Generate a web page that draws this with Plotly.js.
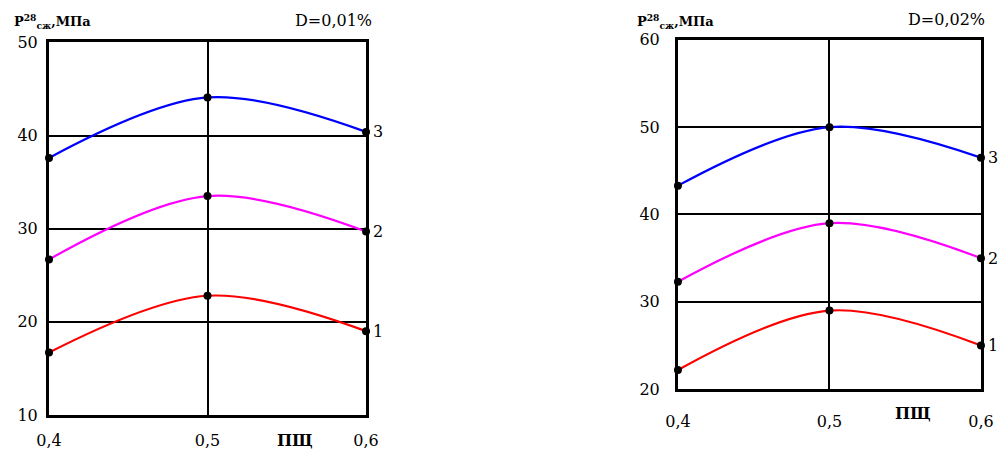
<!DOCTYPE html>
<html><head><meta charset="utf-8">
<script src="https://cdn.plot.ly/plotly-3.0.1.min.js"></script>
<style>html,body{margin:0;padding:0;background:#fff}#c{width:1002px;height:452px}</style>
</head><body><div id="c"></div>
<script>
const xVals = [0.4, 0.5, 0.6];
const xTickText = ["0,4", "0,5", "0,6"];
const seriesLabels = ["1", "2", "3"];
const seriesColors = ["#ff0000", "#ff00ff", "#0000ff"];
// Panel A: D=0,01%
const a1 = [16.7, 22.8, 19.0];
const a2 = [26.7, 33.5, 29.7];
const a3 = [37.6, 44.1, 40.4];
// Panel B: D=0,02%
const b1 = [22.2, 29.0, 25.0];
const b2 = [32.3, 39.0, 35.0];
const b3 = [43.3, 50.0, 46.5];
const titleA = "D=0,01%";
const titleB = "D=0,02%";
const yTicksA = [10, 20, 30, 40, 50];
const yTicksB = [20, 30, 40, 50, 60];
const xName = "ПЩ";
const yName = "P<sup>28</sup><sub>сж</sub>,МПа";

const F = "DejaVu Serif, Liberation Serif, serif";
const traces = [];
function addPanel(series, xa, ya) {
  series.forEach((s, i) => {
    traces.push({x: xVals, y: s, xaxis: xa, yaxis: ya, mode: "lines", type: "scatter",
      line: {shape: "spline", color: seriesColors[i], width: 2.2}, hoverinfo: "skip", showlegend: false, cliponaxis: false});
    traces.push({x: xVals, y: s, xaxis: xa, yaxis: ya, mode: "markers", type: "scatter",
      marker: {color: "#000", size: 8}, hoverinfo: "skip", showlegend: false, cliponaxis: false});
  });
}
addPanel([a1, a2, a3], "x", "y");
addPanel([b1, b2, b3], "x2", "y2");

function xaxis(dom, anchor, standoff) {
  return {domain: dom, anchor: anchor, range: [0.4, 0.6], tickvals: xVals, ticktext: xTickText,
    showgrid: true, gridcolor: "#000", gridwidth: 2, showline: true, mirror: true, linecolor: "#000", linewidth: 3,
    ticks: "", zeroline: false, ticklabelstandoff: standoff, tickfont: {family: F, size: 16, color: "#000"}};
}
function yaxis(dom, anchor, tv, standoff) {
  return {domain: dom, anchor: anchor, range: [tv[0], tv[tv.length - 1]], tickvals: tv,
    showgrid: true, gridcolor: "#000", gridwidth: 2, showline: true, mirror: true, linecolor: "#000", linewidth: 3,
    ticks: "", zeroline: false, ticklabelstandoff: standoff, tickfont: {family: F, size: 16, color: "#000"}};
}

const ann = [];
function panelAnn(series, xa, ya, title, xPTitle, xPD, yTop, xName_x, xName_y) {
  series.forEach((s, i) => {
    ann.push({x: xVals[2], y: s[2], xref: xa, yref: ya, text: seriesLabels[i], showarrow: false,
      xanchor: "left", xshift: 5, font: {family: F, size: 16, color: "#000"}});
  });
  ann.push({x: xName_x, y: xName_y, xref: xa, yref: "paper", text: xName, showarrow: false, yanchor: "middle",
    font: {family: F, size: 16, color: "#000", weight: "bold"}});
  ann.push({x: xPTitle, y: yTop, xref: "paper", yref: "paper", text: yName,
    showarrow: false, xanchor: "left", yanchor: "bottom", font: {family: F, size: 13, color: "#000", weight: "bold"}});
  ann.push({x: xPD, y: yTop + 0.004, xref: "paper", yref: "paper", text: title, showarrow: false,
    xanchor: "right", yanchor: "bottom", font: {family: F, size: 16, color: "#000"}});
}
panelAnn([a1, a2, a3], "x", "y", titleA, 0.012, 0.373, 0.926, 0.555, 0.026);
panelAnn([b1, b2, b3], "x2", "y2", titleB, 0.634, 0.985, 0.928, 0.555, 0.086);

const layout = {
  width: 1002, height: 452, margin: {l: 0, r: 0, t: 0, b: 0},
  paper_bgcolor: "#fff", plot_bgcolor: "#fff", showlegend: false,
  xaxis: xaxis([0.0489, 0.3653], "y", 9),
  yaxis: yaxis([0.082, 0.906], "x", yTicksA, 5),
  xaxis2: xaxis([0.6766, 0.979], "y2", 16),
  yaxis2: yaxis([0.139, 0.912], "x2", yTicksB, 12),
  annotations: ann
};
Plotly.newPlot("c", traces, layout, {staticPlot: true});
</script></body></html>
